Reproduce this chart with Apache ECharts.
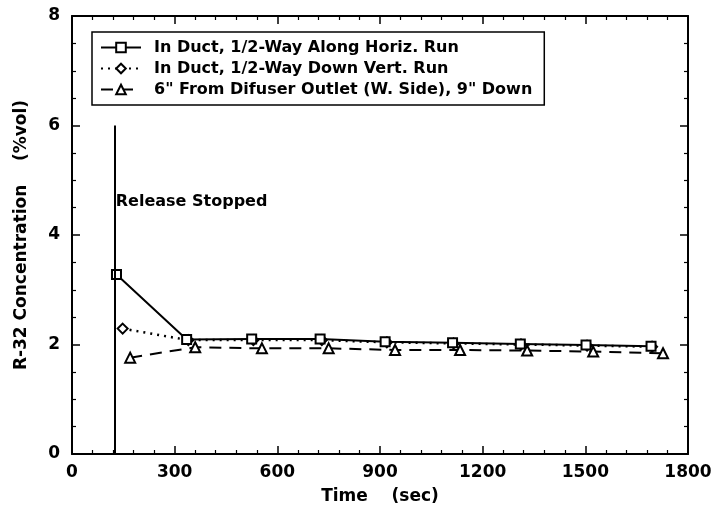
<!DOCTYPE html>
<html>
<head>
<meta charset="utf-8">
<script src="https://cdn.jsdelivr.net/npm/echarts@6/dist/echarts.min.js"></script>
<style>
  html, body { margin: 0; padding: 0; background: #fff; }
  #main { width: 716px; height: 516px; }
</style>
</head>
<body>
<div id="main"></div>
<script>
// data
var names = [
    'In Duct, 1/2-Way Along Horiz. Run',
    'In Duct, 1/2-Way Down Vert. Run',
    '6" From Difuser Outlet (W. Side), 9" Down'
];
var timeHoriz = [130, 335, 525, 725, 915, 1112, 1310, 1502, 1692];
var concHoriz = [3.28, 2.09, 2.1, 2.1, 2.05, 2.03, 2.01, 1.99, 1.97];
var timeVert = [148, 340, 530, 730, 920, 1115, 1312, 1505, 1695];
var concVert = [2.29, 2.08, 2.08, 2.08, 2.04, 2.02, 2.0, 1.98, 1.96];
var timeDiff = [170, 360, 555, 750, 944, 1134, 1330, 1523, 1727];
var concDiff = [1.76, 1.95, 1.93, 1.93, 1.9, 1.9, 1.89, 1.87, 1.84];
var releaseTime = 125;
var releaseTop = 6;
var xTicks = [0, 300, 600, 900, 1200, 1500, 1800];
var yTicks = [0, 2, 4, 6, 8];

function pairs(xs, ys) {
    return xs.map(function (x, i) { return [x, ys[i]]; });
}

var font = 'DejaVu Sans';
var chart = echarts.init(document.getElementById('main'));

function frameAxis(extra) {
    var a = {
        type: 'value',
        axisLine: { show: true, onZero: false, lineStyle: { color: '#000', width: 2 } },
        axisTick: { show: true, inside: true, length: 8, lineStyle: { color: '#000', width: 1.5 } },
        minorTick: { show: true, splitNumber: 5, length: 4, lineStyle: { color: '#000', width: 1.2 } },
        splitLine: { show: false },
        axisLabel: { show: false }
    };
    for (var k in extra) a[k] = extra[k];
    return a;
}

var tickLabel = {
    fontFamily: font, fontSize: 17, fontWeight: 'bold', color: '#000',
    formatter: function (v) { return String(v); }
};
var nameStyle = { fontFamily: font, fontSize: 17, fontWeight: 'bold', color: '#000' };

var option = {
    backgroundColor: '#fff',
    animation: false,
    textStyle: { fontFamily: font, color: '#000' },
    grid: { left: 72, right: 28, top: 16, bottom: 62 },
    legend: {
        orient: 'vertical',
        left: 92,
        top: 32,
        data: names,
        itemWidth: 40,
        itemHeight: 12,
        itemGap: 2,
        padding: [6, 12, 6, 8],
        borderColor: '#000',
        borderWidth: 1.5,
        textStyle: { fontFamily: font, fontSize: 16, fontWeight: 'bold', color: '#000', lineHeight: 19, padding: [0, 0, 0, 8] }
    },
    xAxis: [
        frameAxis({
            min: xTicks[0], max: xTicks[xTicks.length - 1], interval: 300,
            name: 'Time    (sec)', nameLocation: 'middle', nameGap: 34, nameTextStyle: nameStyle,
            axisLabel: Object.assign({ margin: 10 }, tickLabel)
        }),
        frameAxis({
            position: 'top',
            min: xTicks[0], max: xTicks[xTicks.length - 1], interval: 300
        })
    ],
    yAxis: [
        frameAxis({
            min: yTicks[0], max: yTicks[yTicks.length - 1], interval: 2,
            minorTick: { show: true, splitNumber: 4, length: 4, lineStyle: { color: '#000', width: 1.2 } },
            name: 'R-32 Concentration    (%vol)', nameLocation: 'middle', nameGap: 42, nameTextStyle: nameStyle,
            axisLabel: Object.assign({ margin: 12 }, tickLabel)
        }),
        frameAxis({
            position: 'right',
            min: yTicks[0], max: yTicks[yTicks.length - 1], interval: 2,
            minorTick: { show: true, splitNumber: 4, length: 4, lineStyle: { color: '#000', width: 1.2 } }
        })
    ],
    series: [{
        name: names[0],
        type: 'line',
        data: pairs(timeHoriz, concHoriz),
        symbol: 'emptyRect',
        symbolSize: 9,
        itemStyle: { color: '#000', borderWidth: 2 },
        lineStyle: { color: '#000', width: 2, type: 'solid' },
        z: 4,
        markLine: {
            silent: true,
            symbol: 'none',
            label: { show: false },
            lineStyle: { color: '#000', width: 2, type: 'solid' },
            data: [[{ coord: [releaseTime, 0] }, { coord: [releaseTime, releaseTop] }]]
        },
        markPoint: {
            silent: true,
            symbol: 'circle',
            symbolSize: 0,
            label: {
                show: true,
                position: 'right',
                distance: 1,
                formatter: 'Release Stopped',
                fontFamily: font,
                fontSize: 16,
                fontWeight: 'bold',
                color: '#000'
            },
            data: [{ coord: [releaseTime, 4.6] }]
        }
    }, {
        name: names[1],
        type: 'line',
        data: pairs(timeVert, concVert),
        symbol: 'emptyDiamond',
        symbolSize: 10,
        itemStyle: { color: '#000', borderWidth: 2 },
        lineStyle: { color: '#000', width: 2.5, type: [2, 5] },
        z: 3
    }, {
        name: names[2],
        type: 'line',
        data: pairs(timeDiff, concDiff),
        symbol: 'emptyTriangle',
        symbolSize: 10,
        itemStyle: { color: '#000', borderWidth: 2 },
        lineStyle: { color: '#000', width: 2, type: [12, 8] },
        z: 2
    }]
};

chart.setOption(option);
</script>
</body>
</html>
